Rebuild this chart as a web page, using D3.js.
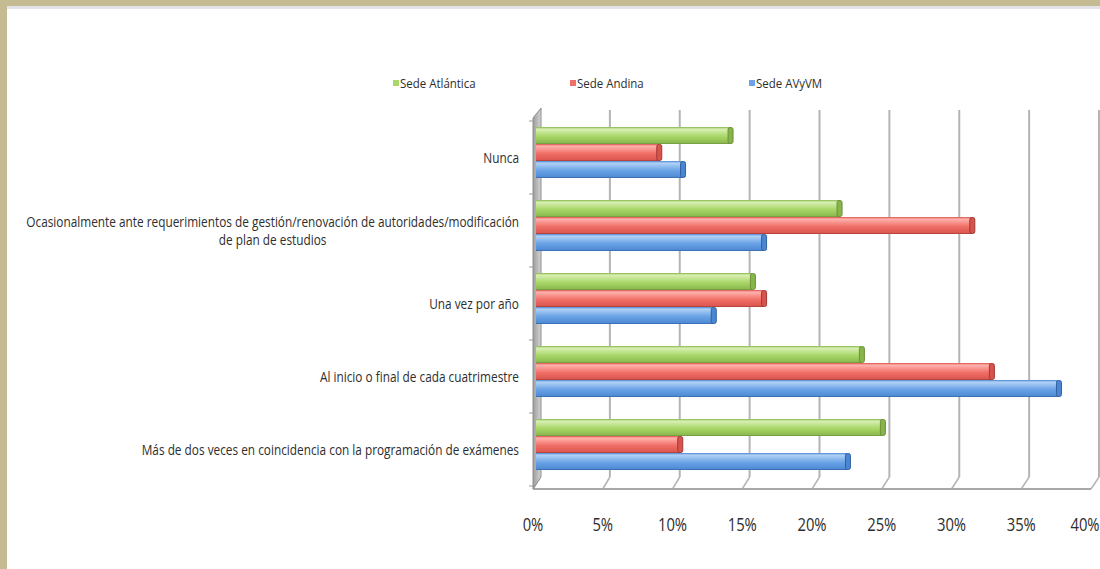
<!DOCTYPE html>
<html>
<head>
<meta charset="utf-8">
<script src="https://cdn.jsdelivr.net/npm/d3@7"></script>
<style>
  html, body { margin: 0; padding: 0; background: #fff; }
  svg { display: block; }
  text { font-family: "Open Sans", "DejaVu Sans", sans-serif; fill: #2e2e2e; }
</style>
</head>
<body>
<svg id="chart" width="1100" height="569"></svg>
<script>
// Survey answers (percent of respondents per site)
const categories = [
  "Nunca",
  "Ocasionalmente ante requerimientos de gestión/renovación de autoridades/modificación|de plan de estudios",
  "Una vez por año",
  "Al inicio o final de cada cuatrimestre",
  "Más de dos veces en coincidencia con la programación de exámenes"
];
const seriesNames = ["Sede Atlántica", "Sede Andina", "Sede AVyVM"];
const atlantica = [14.1, 21.9, 15.7, 23.5, 25.0];
const andina    = [9.0, 31.4, 16.5, 32.8, 10.5];
const avyvm     = [10.7, 16.5, 12.9, 37.6, 22.5];
const tickValues = [0, 5, 10, 15, 20, 25, 30, 35, 40];
const tickLabels = ["0%", "5%", "10%", "15%", "20%", "25%", "30%", "35%", "40%"];

const seriesValues = [atlantica, andina, avyvm];
const colors = [
  { light: "#d9f0b4", mid: "#a9d769", dark: "#86b54a", edge: "#6f8f3c" },
  { light: "#ffb3ad", mid: "#f07068", dark: "#d9534c", edge: "#9c3a34" },
  { light: "#b2d2f6", mid: "#6aa3e6", dark: "#4a86d2", edge: "#33609e" }
];

const svg = d3.select("#chart");
const defs = svg.append("defs");
colors.forEach((c, i) => {
  const g = defs.append("linearGradient").attr("id", "grad" + i)
    .attr("x1", 0).attr("y1", 0).attr("x2", 0).attr("y2", 1);
  g.append("stop").attr("offset", "0%").attr("stop-color", c.dark);
  g.append("stop").attr("offset", "12%").attr("stop-color", c.light);
  g.append("stop").attr("offset", "55%").attr("stop-color", c.mid);
  g.append("stop").attr("offset", "100%").attr("stop-color", c.dark);
});
const wallGrad = defs.append("linearGradient").attr("id", "wall")
  .attr("x1", 0).attr("y1", 0).attr("x2", 1).attr("y2", 0);
wallGrad.append("stop").attr("offset", "0%").attr("stop-color", "#9c9c9c");
wallGrad.append("stop").attr("offset", "100%").attr("stop-color", "#d4d4d4");

// Frame
svg.append("rect").attr("x", 0).attr("y", 0).attr("width", 1100).attr("height", 569).attr("fill", "#fff");
svg.append("rect").attr("x", 0).attr("y", 0).attr("width", 1100).attr("height", 6).attr("fill", "#c4bb93");
svg.append("rect").attr("x", 0).attr("y", 0).attr("width", 7).attr("height", 569).attr("fill", "#c4bb93");
svg.append("rect").attr("x", 7).attr("y", 6).attr("width", 1093).attr("height", 3).attr("fill", "#e4e2ea");

// Scales: back wall, front floor edge, and bar faces
const xBack  = d3.scaleLinear().domain([0, 40]).range([540, 1099]);
const xFront = d3.scaleLinear().domain([0, 40]).range([533, 1091]);
const xBar   = d3.scaleLinear().domain([0, 40]).range([536, 1095]);
const y0 = d3.scaleBand().domain(d3.range(categories.length)).range([121, 486]);
const y1 = d3.scaleBand().domain(d3.range(seriesNames.length)).range([6, 57]);

const backTop = 110, backBottom = 477, frontY = 489;

// Back-wall gridlines
svg.append("g").selectAll("line").data(tickValues).join("line")
  .attr("x1", d => xBack(d)).attr("x2", d => xBack(d))
  .attr("y1", backTop).attr("y2", backBottom)
  .attr("stroke", "#b4b4b4").attr("stroke-width", 2);

// Floor: connectors from back to front and the front edge
svg.append("g").selectAll("line").data(tickValues).join("line")
  .attr("x1", d => xBack(d)).attr("y1", backBottom)
  .attr("x2", d => xFront(d)).attr("y2", frontY)
  .attr("stroke", "#b4b4b4").attr("stroke-width", 1.5);
svg.append("line")
  .attr("x1", xFront(0)).attr("x2", xFront(40))
  .attr("y1", frontY).attr("y2", frontY)
  .attr("stroke", "#a8a8a8").attr("stroke-width", 2);

// Left wall
svg.append("path")
  .attr("d", `M${xBack(0) + 1},${backTop - 2} L${xBack(0) + 1},${backBottom} L${xFront(0)},${frontY} L${xFront(0)},${backTop + 8} Z`)
  .attr("fill", "url(#wall)").attr("stroke", "#8e8e8e").attr("stroke-width", 1);

// Category tick marks on the wall
svg.append("g").selectAll("line").data(d3.range(categories.length + 1)).join("line")
  .attr("x1", xFront(0) - 4).attr("x2", xFront(0))
  .attr("y1", d => 121 + d * y0.step()).attr("y2", d => 121 + d * y0.step())
  .attr("stroke", "#999").attr("stroke-width", 1);

// Bars
const bars = svg.append("g");
seriesValues.forEach((vals, s) => {
  const g = bars.append("g");
  const h = y1.bandwidth();
  g.selectAll("rect.face").data(vals).join("rect")
    .attr("class", "face")
    .attr("x", xBar(0))
    .attr("y", (d, i) => y0(i) + y1(s))
    .attr("width", d => xBar(d) - xBar(0) - 3)
    .attr("height", h)
    .attr("fill", `url(#grad${s})`);
  // end cap
  g.selectAll("rect.cap").data(vals).join("rect")
    .attr("class", "cap")
    .attr("x", d => xBar(d) - 5)
    .attr("y", (d, i) => y0(i) + y1(s) + 0.5)
    .attr("width", 5)
    .attr("height", h - 1)
    .attr("rx", 2)
    .attr("fill", colors[s].dark)
    .attr("stroke", colors[s].edge).attr("stroke-width", 1);
  // bottom shading line
  g.selectAll("line").data(vals).join("line")
    .attr("x1", xBar(0)).attr("x2", d => xBar(d) - 3)
    .attr("y1", (d, i) => y0(i) + y1(s) + h - 0.5)
    .attr("y2", (d, i) => y0(i) + y1(s) + h - 0.5)
    .attr("stroke", colors[s].edge).attr("stroke-opacity", 0.6).attr("stroke-width", 1);
});

// Category labels (condensed)
const labelScale = 0.845;
const cat = svg.append("g");
categories.forEach((c, i) => {
  const lines = c.split("|");
  const cy = y0(i) + y0.bandwidth() / 2;
  lines.forEach((ln, k) => {
    const yy = cy + 5 + (k - (lines.length - 1) / 2) * 18;
    cat.append("text")
      .attr("transform", `translate(519,${yy}) scale(${labelScale},1)`)
      .attr("text-anchor", lines.length > 1 && k > 0 ? "middle" : "end")
      .attr("font-size", 14)
      .text(ln);
  });
});
// center the second line of the wrapped label under the first
(function () {
  const texts = cat.selectAll("text").nodes();
  texts.forEach((t, idx) => {
    if (t.getAttribute("text-anchor") === "middle") {
      const prev = texts[idx - 1];
      const w = prev.getComputedTextLength() * labelScale;
      const cx = 519 - w / 2;
      const yy = t.getAttribute("transform").match(/,([\d.]+)\)/)[1];
      t.setAttribute("transform", `translate(${cx},${yy}) scale(${labelScale},1)`);
    }
  });
})();

// Value axis labels
svg.append("g").selectAll("text").data(tickValues).join("text")
  .attr("transform", d => `translate(${Math.min(xFront(d), 1085)},531) scale(0.8,1)`)
  .attr("text-anchor", "middle")
  .attr("font-size", 18.5)
  .text((d, i) => tickLabels[i]);

// Legend
const legendX = [393, 570, 749];
const legend = svg.append("g");
seriesNames.forEach((n, i) => {
  legend.append("rect").attr("x", legendX[i]).attr("y", 80).attr("width", 6).attr("height", 6)
    .attr("fill", colors[i].mid);
  legend.append("text")
    .attr("transform", `translate(${legendX[i] + 7},88) scale(0.85,1)`)
    .attr("font-size", 13.5)
    .text(n);
});
</script>
</body>
</html>
